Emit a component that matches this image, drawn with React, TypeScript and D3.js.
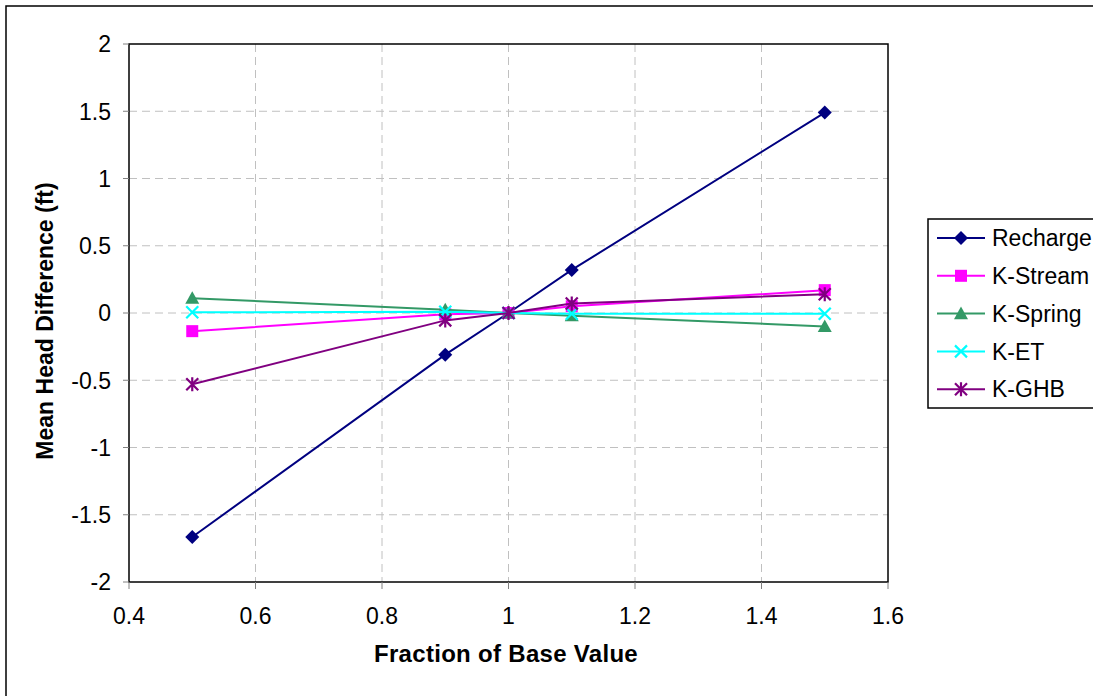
import React from "react";
import * as d3 from "d3";

const fractions = [0.5, 0.9, 1.0, 1.1, 1.5];
const recharge = [-1.665, -0.31, 0.0, 0.32, 1.49];
const kStream = [-0.135, -0.01, 0.0, 0.05, 0.17];
const kSpring = [0.11, 0.025, 0.0, -0.02, -0.1];
const kET = [0.005, 0.01, 0.0, -0.005, -0.005];
const kGHB = [-0.53, -0.055, 0.0, 0.07, 0.14];

const xTicks = [0.4, 0.6, 0.8, 1.0, 1.2, 1.4, 1.6];
const yTicks = [-2, -1.5, -1, -0.5, 0, 0.5, 1, 1.5, 2];

const seriesNames = ["Recharge", "K-Stream", "K-Spring", "K-ET", "K-GHB"];
const seriesValues = [recharge, kStream, kSpring, kET, kGHB];
const seriesColors = ["#000080", "#FF00FF", "#339966", "#00FFFF", "#800080"];
const seriesMarkers = ["diamond", "square", "triangle", "x", "star"];

const W = 1093;
const H = 696;
const plot = { left: 129, top: 44, right: 888, bottom: 582 };
const FONT = "Arial, 'Liberation Sans', sans-serif";

function Marker({ type, x, y, color }: { type: string; x: number; y: number; color: string }) {
  if (type === "diamond") {
    const s = 7;
    return <path d={`M${x},${y - s}L${x + s},${y}L${x},${y + s}L${x - s},${y}Z`} fill={color} />;
  }
  if (type === "square") {
    const s = 6;
    return <rect x={x - s} y={y - s} width={2 * s} height={2 * s} fill={color} />;
  }
  if (type === "triangle") {
    const s = 7;
    return <path d={`M${x},${y - s}L${x + s},${y + s * 0.8}L${x - s},${y + s * 0.8}Z`} fill={color} />;
  }
  if (type === "x") {
    const s = 6;
    return (
      <path d={`M${x - s},${y - s}L${x + s},${y + s}M${x + s},${y - s}L${x - s},${y + s}`} stroke={color} strokeWidth={2.2} fill="none" />
    );
  }
  const s = 6;
  return (
    <path
      d={`M${x - s},${y - s}L${x + s},${y + s}M${x + s},${y - s}L${x - s},${y + s}M${x},${y - s - 1}L${x},${y + s + 1}`}
      stroke={color}
      strokeWidth={2.2}
      fill="none"
    />
  );
}

export default function App() {
  const x = d3.scaleLinear().domain([0.4, 1.6]).range([plot.left, plot.right]);
  const y = d3.scaleLinear().domain([-2, 2]).range([plot.bottom, plot.top]);
  const line = d3
    .line<[number, number]>()
    .x((d) => x(d[0]))
    .y((d) => y(d[1]));

  const legend = { x: 928, y: 219, w: 170, h: 189 };
  const legendRowY = (i: number) => 238 + i * 37.8;

  return (
    <svg width={W} height={H} style={{ position: "absolute", left: 0, top: 0, background: "#fff" }} fontFamily={FONT}>
      <rect x={0} y={0} width={W} height={H} fill="#fff" />
      <rect x={6} y={6} width={W + 10} height={H + 10} fill="none" stroke="#000" strokeWidth={1.5} />

      {xTicks.slice(1, -1).map((t) => (
        <line key={"gx" + t} x1={x(t)} x2={x(t)} y1={plot.top} y2={plot.bottom} stroke="#c0c0c0" strokeWidth={1} strokeDasharray="8,5" />
      ))}
      {yTicks.slice(1, -1).map((t) => (
        <line key={"gy" + t} x1={plot.left} x2={plot.right} y1={y(t)} y2={y(t)} stroke="#c0c0c0" strokeWidth={1} strokeDasharray="8,5" />
      ))}

      <rect x={plot.left} y={plot.top} width={plot.right - plot.left} height={plot.bottom - plot.top} fill="none" stroke="#000" strokeWidth={1.5} />

      {yTicks.map((t) => (
        <g key={"ty" + t}>
          <line x1={plot.left - 6} x2={plot.left} y1={y(t)} y2={y(t)} stroke="#808080" strokeWidth={1} />
          <text x={111} y={y(t)} dy="0.36em" textAnchor="end" fontSize={23} fill="#000">
            {String(t)}
          </text>
        </g>
      ))}
      {xTicks.map((t) => (
        <g key={"tx" + t}>
          <line x1={x(t)} x2={x(t)} y1={plot.bottom} y2={plot.bottom + 7} stroke="#808080" strokeWidth={1} />
          <text x={x(t)} y={624} textAnchor="middle" fontSize={23} fill="#000">
            {String(t)}
          </text>
        </g>
      ))}

      <text x={506} y={662} textAnchor="middle" fontSize={24} fontWeight="bold" letterSpacing={0.3}>
        Fraction of Base Value
      </text>
      <text transform={`translate(53,321) rotate(-90)`} textAnchor="middle" fontSize={23} fontWeight="bold">
        Mean Head Difference (ft)
      </text>

      {seriesValues.map((vals, si) => {
        const pts: [number, number][] = fractions.map((f, i) => [f, vals[i]]);
        return (
          <g key={"s" + si}>
            <path d={line(pts) || ""} fill="none" stroke={seriesColors[si]} strokeWidth={2} />
            {pts.map((p, i) => (
              <Marker key={i} type={seriesMarkers[si]} x={x(p[0])} y={y(p[1])} color={seriesColors[si]} />
            ))}
          </g>
        );
      })}

      <rect x={legend.x} y={legend.y} width={legend.w} height={legend.h} fill="#fff" stroke="#000" strokeWidth={1.5} />
      {seriesNames.map((n, i) => {
        const ly = legendRowY(i);
        return (
          <g key={"l" + i}>
            <line x1={937} x2={985} y1={ly} y2={ly} stroke={seriesColors[i]} strokeWidth={2} />
            <Marker type={seriesMarkers[i]} x={961} y={ly} color={seriesColors[i]} />
            <text x={992} y={ly} dy="0.36em" fontSize={23} fill="#000">
              {n}
            </text>
          </g>
        );
      })}
    </svg>
  );
}
